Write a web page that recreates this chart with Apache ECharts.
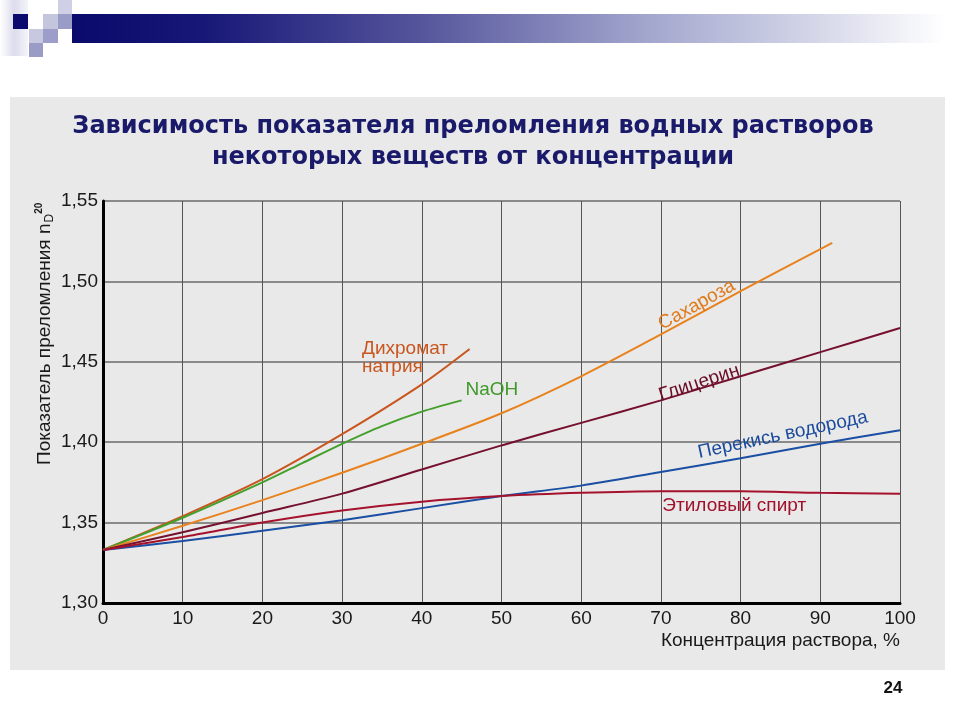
<!DOCTYPE html>
<html><head><meta charset="utf-8">
<script src="https://cdn.jsdelivr.net/npm/echarts@6/dist/echarts.min.js"></script>
<style>html,body{margin:0;padding:0;background:#fff}#c{width:960px;height:720px}</style>
</head><body><div id="c"></div>
<script>
// ---- data ----
const titleLines = ['Зависимость показателя преломления водных растворов', 'некоторых веществ от концентрации'];
const xTicks = [0, 10, 20, 30, 40, 50, 60, 70, 80, 90, 100];
const yTicks = [1.30, 1.35, 1.40, 1.45, 1.50, 1.55];
const xName = 'Концентрация раствора, %';
const yName = 'Показатель преломления n';

const dichromateX = [0, 10, 20, 30, 40, 46];
const dichromateY = [1.333, 1.354, 1.377, 1.405, 1.436, 1.458];
const naohX = [0, 10, 20, 25, 30, 35, 40, 45];
const naohY = [1.333, 1.353, 1.375, 1.387, 1.399, 1.410, 1.419, 1.426];
const sucroseX = [0, 10, 20, 30, 40, 50, 60, 70, 80, 91.5];
const sucroseY = [1.333, 1.348, 1.364, 1.381, 1.399, 1.418, 1.441, 1.467, 1.494, 1.524];
const glycerinX = [0, 10, 20, 30, 40, 50, 60, 70, 80, 90, 100];
const glycerinY = [1.333, 1.344, 1.356, 1.368, 1.383, 1.398, 1.412, 1.426, 1.441, 1.456, 1.471];
const peroxideX = [0, 10, 20, 30, 40, 50, 60, 70, 80, 90, 100];
const peroxideY = [1.333, 1.3385, 1.345, 1.3515, 1.359, 1.3665, 1.373, 1.3815, 1.390, 1.399, 1.4075];
const ethanolX = [0, 10, 20, 30, 40, 50, 60, 70, 80, 90, 100];
const ethanolY = [1.333, 1.341, 1.350, 1.3575, 1.363, 1.3665, 1.3685, 1.3695, 1.3695, 1.3685, 1.368];

const seriesNames = ['Дихромат\nнатрия', 'NaOH', 'Сахароза', 'Глицерин', 'Перекись водорода', 'Этиловый спирт'];
// caption anchor (data coords) for each curve
const labelX = [32.5, 48.8, 74.5, 74.8, 85.3, 79.2];
const labelY = [1.4525, 1.4325, 1.4853, 1.4368, 1.4045, 1.3603];

// ---- styles ----
const colors = ['#c9561f', '#44a02c', '#e8821c', '#75102e', '#1a4fa3', '#a5122e'];
const labelColors = ['#c9561f', '#3f9a2a', '#e07a1a', '#6a0c28', '#1a4a9c', '#a0102a'];
const labelRot = [0, 0, 29, 18, 12, 0];
const labelAlign = ['left', 'center', 'center', 'center', 'center', 'center'];
const sans = '"Liberation Sans", Arial, sans-serif';

function pairs(xs, ys) { return xs.map((x, i) => [x, ys[i]]); }
const allData = [
  pairs(dichromateX, dichromateY), pairs(naohX, naohY), pairs(sucroseX, sucroseY),
  pairs(glycerinX, glycerinY), pairs(peroxideX, peroxideY), pairs(ethanolX, ethanolY)
];

const chart = echarts.init(document.getElementById('c'), null, { renderer: 'canvas' });

const series = allData.map((d, i) => ({
  type: 'line',
  name: seriesNames[i],
  data: d,
  smooth: 0.3,
  showSymbol: false,
  symbol: 'none',
  lineStyle: { color: colors[i], width: 2 },
  z: 3,
  animation: false,
  markPoint: {
    symbol: 'circle', symbolSize: 0,
    silent: true,
    data: [{
      coord: [labelX[i], labelY[i]],
      label: {
        show: true,
        formatter: seriesNames[i],
        position: 'inside',
        rotate: labelRot[i],
        color: labelColors[i],
        fontSize: 19,
        fontFamily: sans,
        align: labelAlign[i],
        verticalAlign: 'middle',
        lineHeight: 18
      }
    }]
  }
}));

const squares = [
  [58, 0, 14, 14, '#cfd0e6'],
  [13, 14, 15, 15, '#0b0b6e'],
  [43, 14, 15, 15, '#c4c6de'],
  [58, 14, 14, 15, '#9a9cc8'],
  [29, 29, 14, 14, '#c8c9e1'],
  [43, 29, 15, 14, '#9c9ec9'],
  [29, 43, 14, 14, '#9a9cc6']
];

const graphics = [
  { type: 'rect', shape: { x: 10, y: 97, width: 935, height: 573 }, style: { fill: '#e9e9e9' }, z: -10, silent: true },
  { type: 'rect', shape: { x: 0, y: 0, width: 28, height: 56 },
    style: { fill: new echarts.graphic.LinearGradient(0, 0, 1, 0, [{ offset: 0, color: '#ffffff' }, { offset: 0.5, color: '#dcdcec' }, { offset: 1, color: '#f4f4fa' }]) }, z: -5, silent: true },
  { type: 'rect', shape: { x: 72, y: 14, width: 873, height: 29 },
    style: { fill: new echarts.graphic.LinearGradient(0, 0, 1, 0, [
      { offset: 0, color: '#0a0a6c' }, { offset: 0.15, color: '#171777' }, { offset: 0.4, color: '#55559c' },
      { offset: 0.65, color: '#a0a4cc' }, { offset: 0.85, color: '#d4d6e8' }, { offset: 1, color: '#ffffff' }]) }, z: -5, silent: true }
].concat(squares.map(s => ({ type: 'rect', shape: { x: s[0], y: s[1], width: s[2], height: s[3] }, style: { fill: s[4] }, z: -4, silent: true })))
.concat([
  { type: 'text', x: 473, y: 127, style: { text: titleLines[0], fill: '#1a1a6a', font: 'bold 24px "DejaVu Sans", sans-serif', align: 'center', verticalAlign: 'middle' }, z: 5 },
  { type: 'text', x: 473, y: 158, style: { text: titleLines[1], fill: '#1a1a6a', font: 'bold 24px "DejaVu Sans", sans-serif', align: 'center', verticalAlign: 'middle' }, z: 5 },
  { type: 'text', x: 900, y: 641, style: { text: xName, fill: '#1a1a1a', font: '19px ' + sans, align: 'right', verticalAlign: 'middle' }, z: 5 },
  { type: 'text', x: 45, y: 465, rotation: Math.PI / 2,
    style: {
      text: yName + '{s|D}{p|20}',
      fill: '#1a1a1a', font: '19px ' + sans, align: 'left', verticalAlign: 'middle',
      rich: {
        s: { fontSize: 12, fontFamily: sans, fill: '#1a1a1a', padding: [9, 0, 0, 1] },
        p: { fontSize: 10, fontFamily: sans, fontWeight: 'bold', fill: '#1a1a1a', padding: [0, 0, 11, 0] }
      }
    }, z: 5 },
  { type: 'text', x: 893, y: 688, style: { text: '24', fill: '#111', font: 'bold 17px ' + sans, align: 'center', verticalAlign: 'middle' }, z: 5 }
]);

chart.setOption({
  animation: false,
  backgroundColor: '#ffffff',
  grid: { left: 103, right: 60, top: 201, bottom: 117, containLabel: false },
  xAxis: {
    type: 'value', min: xTicks[0], max: xTicks[xTicks.length - 1], interval: 10,
    axisLine: { show: true, lineStyle: { color: '#000', width: 3 } },
    axisTick: { show: false },
    axisLabel: { color: '#1a1a1a', fontSize: 19, fontFamily: sans, margin: 6 },
    splitLine: { show: true, lineStyle: { color: '#555', width: 1 } }
  },
  yAxis: {
    type: 'value', min: yTicks[0], max: yTicks[yTicks.length - 1], interval: 0.05,
    axisLine: { show: true, lineStyle: { color: '#000', width: 3 } },
    axisTick: { show: false },
    axisLabel: { color: '#1a1a1a', fontSize: 19, fontFamily: sans, margin: 5,
      formatter: v => v.toFixed(2).replace('.', ',') },
    splitLine: { show: true, lineStyle: { color: '#8a8a8a', width: 2 } }
  },
  graphic: graphics,
  series: series
});
</script></body></html>
